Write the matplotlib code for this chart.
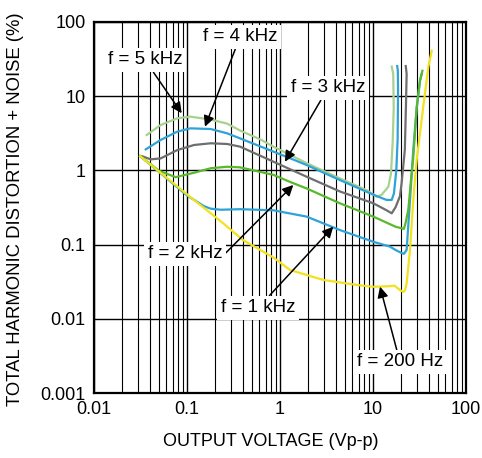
import matplotlib
matplotlib.use("Agg")
import matplotlib.pyplot as plt
from matplotlib.ticker import FixedLocator, FixedFormatter, NullFormatter

plt.rcParams['font.family'] = ['Liberation Sans', 'DejaVu Sans']

# ---------------- data ----------------
# f = 5 kHz (light green)
v_5k = [0.0368, 0.052, 0.0787, 0.109, 0.18, 0.27, 0.372, 0.62, 0.85, 1.94, 4.41,
        8.55, 11.0, 12.4, 14.6, 15.6, 16.3, 16.7, 16.5, 15.9]
thd_5k = [3.0, 4.09, 5.04, 5.3, 4.84, 4.27, 3.45, 2.6, 2.09, 1.25, 0.78,
          0.54, 0.44, 0.47, 0.60, 0.9, 2.5, 7.0, 20.0, 25.0]
# f = 4 kHz (blue)
v_4k = [0.036, 0.052, 0.0787, 0.109, 0.18, 0.27, 0.372, 0.85, 1.28, 1.94, 4.41,
        10.1, 14.0, 15.9, 16.8, 17.8, 18.4, 18.6, 18.5, 18.2]
thd_4k = [1.92, 2.57, 3.33, 3.69, 3.61, 3.16, 2.7, 1.79, 1.46, 1.18, 0.74,
          0.47, 0.40, 0.40, 0.49, 1.0, 2.6, 12.0, 22.0, 25.5]
# f = 3 kHz (grey)
v_3k = [0.033, 0.0406, 0.052, 0.0787, 0.119, 0.18, 0.27, 0.372, 0.85, 1.94, 4.41,
        10.1, 14.0, 15.9, 17.5, 19.5, 20.3, 22.0, 22.6, 23.0, 22.5]
thd_3k = [1.55, 1.41, 1.45, 1.88, 2.2, 2.32, 2.27, 2.09, 1.31, 0.82, 0.52,
          0.36, 0.29, 0.264, 0.32, 0.45, 0.67, 1.9, 7.2, 20.0, 25.5]
# f = 2 kHz (green)
v_2k = [0.0313, 0.05, 0.0755, 0.119, 0.18, 0.27, 0.372, 0.85, 1.28, 1.94, 4.41,
        10.1, 17.5, 20.3, 21.5, 22.5, 24.0, 25.5, 27.0, 29.5, 32.0, 33.5, 34.0]
thd_2k = [1.56, 0.99, 0.81, 0.93, 1.07, 1.12, 1.10, 0.87, 0.70, 0.57, 0.36,
          0.238, 0.174, 0.166, 0.163, 0.2, 0.3, 0.7, 1.4, 7.0, 16.5, 20.4, 22.0]
# f = 1 kHz (blue)
v_1k = [0.0313, 0.1, 0.152, 0.18, 0.23, 0.372, 0.85, 1.94, 4.41, 10.1, 15.2,
        17.5, 20.3, 21.5, 23.0, 25.0, 27.1, 29.5, 32.0, 33.4]
thd_1k = [1.56, 0.46, 0.33, 0.305, 0.295, 0.30, 0.29, 0.238, 0.157, 0.109, 0.094,
          0.0845, 0.077, 0.075, 0.085, 0.40, 1.88, 7.0, 16.0, 20.0]
# f = 200 Hz (yellow)
v_200 = [0.0313, 0.108, 0.245, 0.40, 0.85, 1.28, 2.92, 6.7, 10.0, 15.2, 17.0,
         19.5, 21.2, 22.0, 23.0, 25.0, 27.1, 29.5, 34.7, 39.4, 42.8]
thd_200 = [1.56, 0.44, 0.194, 0.115, 0.067, 0.0455, 0.0334, 0.0286, 0.027, 0.0275, 0.028,
           0.0244, 0.023, 0.024, 0.030, 0.085, 0.40, 1.38, 7.2, 25.0, 41.0]

x_ticks = [0.01, 0.1, 1, 10, 100]
x_tick_labels = ['0.01', '0.1', '1', '10', '100']
y_ticks = [0.001, 0.01, 0.1, 1, 10, 100]
y_tick_labels = ['0.001', '0.01', '0.1', '1', '10', '100']

labels = ['f = 5 kHz', 'f = 4 kHz', 'f = 3 kHz', 'f = 2 kHz', 'f = 1 kHz', 'f = 200 Hz']
label_text_pos = [(0.0353, 30.8), (0.372, 62.8), (3.28, 12.9), (0.095, 0.0747), (0.58, 0.014), (19.5, 0.00262)]
label_tip_pos = [(0.0877, 5.9), (0.156, 3.88), (1.13, 1.31), (1.39, 0.636), (3.74, 0.174), (11.9, 0.0271)]

# ---------------- figure ----------------
fig = plt.figure(figsize=(4.82, 4.58), dpi=100)
ax = fig.add_axes([94/482, 65/458, 372/482, 371/458])
ax.set_xscale('log')
ax.set_yscale('log')
ax.set_xlim(0.01, 100)
ax.set_ylim(0.001, 100)

# grid: vertical at major + minor, horizontal at decades
minor_x = [m * 10.0**e for e in range(-2, 2) for m in range(2, 10)]
ax.xaxis.set_major_locator(FixedLocator(x_ticks))
ax.xaxis.set_major_formatter(FixedFormatter(x_tick_labels))
ax.xaxis.set_minor_locator(FixedLocator(minor_x))
ax.xaxis.set_minor_formatter(NullFormatter())
ax.yaxis.set_major_locator(FixedLocator(y_ticks))
ax.yaxis.set_major_formatter(FixedFormatter(y_tick_labels))
ax.yaxis.set_minor_locator(FixedLocator([]))
ax.grid(True, which='major', axis='both', color='black', lw=1.0)
ax.grid(True, which='minor', axis='x', color='black', lw=0.8)
ax.set_axisbelow(True)
ax.tick_params(which='both', length=0, labelsize=13, colors='black')
ax.tick_params(axis='x', pad=6)
ax.tick_params(axis='y', pad=6)
for s in ax.spines.values():
    s.set_linewidth(1.6)
    s.set_color('black')

lw = 1.6
ax.plot(v_5k, thd_5k, color='#a9d18e', lw=lw, zorder=3)
ax.plot(v_4k, thd_4k, color='#2ea3d8', lw=lw, zorder=3)
ax.plot(v_3k, thd_3k, color='#6e6e6e', lw=lw, zorder=3)
ax.plot(v_1k, thd_1k, color='#2ea3d8', lw=lw, zorder=3)
ax.plot(v_2k, thd_2k, color='#5ab82c', lw=lw, zorder=3)
ax.plot(v_200, thd_200, color='#f2e21b', lw=lw, zorder=3)

relpos = [(0.5, 0.5), (0.5, 0.5), (0.5, 0.5), (1.0, 0.35), (0.5, 0.5), (0.5, 0.5)]
for lab, tp, tip, rp in zip(labels, label_text_pos, label_tip_pos, relpos):
    ax.annotate(lab, xy=tip, xytext=tp, ha='center', va='center', fontsize=13.5,
                bbox=dict(boxstyle='square,pad=0.2', fc='white', ec='none'),
                arrowprops=dict(arrowstyle='-|>', color='black', lw=1.1,
                                mutation_scale=16, shrinkA=0, shrinkB=0, relpos=rp),
                zorder=5)

fig.text(271/482, 1 - 441/458, 'OUTPUT VOLTAGE (Vp-p)', ha='center', va='center', fontsize=13)
fig.text(16/482, 1 - 209/458, 'TOTAL HARMONIC DISTORTION + NOISE (%)', ha='center', va='center',
         rotation=90, fontsize=13.3)

fig.savefig('out.png', dpi=100, facecolor='white')
